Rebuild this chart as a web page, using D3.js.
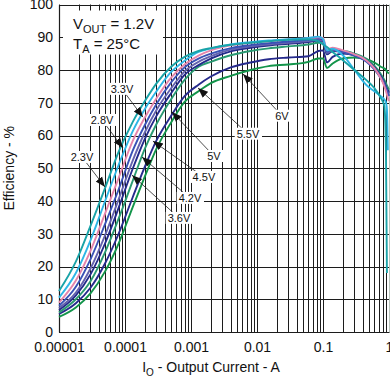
<!DOCTYPE html>
<html>
<head>
<meta charset="utf-8">
<script src="https://cdn.jsdelivr.net/npm/d3@7"></script>
<style>
body { margin: 0; background: #fff; }
text { font-family: "Liberation Sans", Arial, sans-serif; fill: #111; }
</style>
</head>
<body>
<div id="chart"></div>
<script>
// output current (A) shared by every curve
const currents = [0.00001, 0.000018, 0.00003, 0.00005, 0.00008, 0.00013, 0.0002, 0.0003, 0.0005, 0.0008,
    0.0013, 0.002, 0.004, 0.008, 0.015, 0.03, 0.06, 0.085, 0.1, 0.115,
    0.14, 0.2, 0.3, 0.45, 0.6, 0.75, 0.85, 0.9, 0.93, 0.96, 1.0];

// efficiency (%) per input voltage
const eff23 = [12.5, 21.5, 32.4, 44, 55, 64, 70.5, 75.9, 81, 84, 85.8, 86.7, 87.7, 88.3, 88.8, 89.2, 89.4, 88.8, 87.8, 87,
    85.5, 83, 80, 77, 74.5, 71.5, 69, 55, 18, null, null];
const eff28 = [10.5, 18, 28, 40, 51, 61.2, 68.1, 73.5, 79.4, 82.8, 85.5, 86.6, 87.8, 88.5, 89, 89.4, 89.8, 90.2, 89.5, 86,
    86.5, 84.5, 80, 75.5, 73.5, 72, 71, 70, 68, 55.5, null];
const eff33 = [9, 15.7, 24.8, 36.2, 47, 58.2, 65.5, 71.4, 77.7, 81.7, 84.4, 86, 87.5, 88.3, 88.8, 89.3, 89.7, 90, 89.8, 86.2,
    86.8, 86, 84.8, 83, 80.5, 77.5, 75, 73.5, 72.5, 71.5, 70.5];
const eff36 = [8, 13.8, 22.2, 33, 43.5, 55.2, 63.2, 69.6, 76.2, 80.8, 83.5, 85, 86.7, 87.6, 88.2, 88.7, 89.2, 89.6, 89.3, 85.6,
    86.3, 85.6, 84.4, 82.6, 80.2, 77.5, 75.5, 74.3, 73.5, 72.8, 72];
const eff42 = [7.3, 12, 19.4, 29.6, 40.5, 52.2, 61, 67.8, 74.4, 79.6, 82.5, 84.2, 86.2, 87.2, 87.8, 88.3, 88.8, 89.2, 89, 85.2,
    86, 85.5, 84.5, 82.8, 80.5, 77.8, 75.8, 74.5, 73.7, 73, 72.2];
const eff45 = [6.7, 11.2, 17.6, 27.1, 37.9, 49.7, 59, 66, 72.9, 78.5, 81.5, 83.5, 85.7, 86.8, 87.5, 88, 88.5, 89, 88.8, 84.8,
    85.8, 85.5, 84.6, 83, 80.8, 78.2, 76.2, 75, 74.2, 73.5, 72.8];
const eff50 = [6, 10, 15.5, 24.4, 34.6, 46, 56, 63.5, 71.1, 77, 81, 82.5, 84.5, 85.8, 86.6, 87.2, 87.8, 88.3, 88.2, 84.8,
    85.8, 85.8, 85, 83.5, 81.3, 78.8, 77, 76, 75.3, 74.7, 74];
const eff55 = [5.5, 8.8, 13.5, 21, 30, 41, 50.5, 58.5, 66, 72, 75.5, 78, 80.8, 82.3, 83.3, 83.8, 84.2, 85.8, 86, 82.3,
    84, 85, 84.5, 83, 81, 78.5, 76.5, 75.5, 74.8, 74, 73.3];
const eff60 = [4.6, 7.5, 11.8, 18.5, 27, 38, 47.5, 56, 64, 70.3, 73.5, 76, 78.2, 80, 81.2, 81.7, 82.5, 83.5, 83.5, 80.6,
    82, 83.5, 83.8, 83.3, 82.3, 81, 80.5, 80, 79.5, 79.2, 79];

const vinNames = ["6V", "5.5V", "5V", "4.5V", "4.2V", "3.6V", "3.3V", "2.8V", "2.3V"];
const vinValues = [eff60, eff55, eff50, eff45, eff42, eff36, eff33, eff28, eff23];
const vinColors = ["#12944a", "#262a8c", "#2a9a72", "#232a8a", "#6462ae", "#3a52b6", "#e584ab", "#2eb6e6", "#19a3a8"];

// callouts: label text, label position [A, %], arrow tip [A, %]
const calloutText = ["2.3V", "2.8V", "3.3V", "3.6V", "4.2V", "4.5V", "5V", "5.5V", "6V"];
const calloutLabel = [[0.0000223, 53.4], [0.0000449, 64.7], [0.00009, 74.2], [0.000658, 34.8], [0.000966, 40.9],
    [0.00157, 47.3], [0.00223, 53.7], [0.00731, 60.5], [0.0239, 66]];
const calloutTip = [[0.0000498, 44.3], [0.0000933, 56.2], [0.000187, 65.6], [0.000128, 47.9], [0.000181, 53.4],
    [0.000265, 58.3], [0.000515, 67.2], [0.00128, 74.5], [0.00614, 78.8]];

const xTickValues = [0.00001, 0.0001, 0.001, 0.01, 0.1, 1];
const xTickLabels = ["0.00001", "0.0001", "0.001", "0.01", "0.1", "1"];
const yTickValues = [0, 10, 20, 30, 40, 50, 60, 70, 80, 90, 100];

const width = 390, height = 377;
const margin = {top: 4.5, right: 1, bottom: 45, left: 59};

const svg = d3.select("#chart")
    .append("svg")
    .attr("width", width)
    .attr("height", height);

const x = d3.scaleLog()
    .domain([0.00001, 1])
    .range([margin.left, width - margin.right]);
const y = d3.scaleLinear()
    .domain([0, 100])
    .range([height - margin.bottom, margin.top]);

// grid
const grid = svg.append("g").attr("stroke", "#1c1c1c").attr("stroke-width", 1);
grid.selectAll("line.v")
    .data(x.ticks())
    .enter().append("line")
    .attr("class", "v")
    .attr("x1", d => Math.round(x(d)) + 0.5)
    .attr("x2", d => Math.round(x(d)) + 0.5)
    .attr("y1", y(100))
    .attr("y2", y(0))
    .attr("stroke", d => d === 1 ? "#b8c4bc" : null);
grid.selectAll("line.h")
    .data(yTickValues)
    .enter().append("line")
    .attr("class", "h")
    .attr("x1", x(0.00001))
    .attr("x2", x(1))
    .attr("y1", d => Math.round(y(d)) + 0.5)
    .attr("y2", d => Math.round(y(d)) + 0.5);

// axes
const xAxis = svg.append("g")
    .attr("transform", `translate(0,${y(0)})`)
    .call(d3.axisBottom(x).tickValues(xTickValues).tickSize(0).tickPadding(10)
        .tickFormat((d, i) => xTickLabels[i]));
const yAxis = svg.append("g")
    .attr("transform", `translate(${x(0.00001)},0)`)
    .call(d3.axisLeft(y).tickValues(yTickValues).tickSize(0).tickPadding(6));
[xAxis, yAxis].forEach(a => {
    a.select(".domain").attr("stroke", "#1c1c1c").attr("stroke-width", 1.2);
    a.selectAll("text").attr("font-size", 14).attr("font-family", '"Liberation Sans", Arial, sans-serif').attr("fill", "#111");
});

// curves
const line = d3.line()
    .defined(d => d[1] !== null)
    .x(d => x(d[0]))
    .y(d => y(d[1]))
    .curve(d3.curveMonotoneX);

svg.append("g")
    .selectAll("path")
    .data(vinValues)
    .enter().append("path")
    .attr("fill", "none")
    .attr("stroke", (d, i) => vinColors[i])
    .attr("stroke-width", 1.9)
    .attr("d", d => line(currents.map((c, i) => [c, d[i]])));

// callouts
svg.append("defs").append("marker")
    .attr("id", "arrow")
    .attr("viewBox", "0 0 10 10")
    .attr("refX", 10).attr("refY", 5)
    .attr("markerWidth", 10).attr("markerHeight", 10)
    .attr("markerUnits", "userSpaceOnUse")
    .attr("orient", "auto")
    .append("path")
    .attr("d", "M0,1 L10,5 L0,9 Z")
    .attr("fill", "#111");

const callouts = svg.append("g");
calloutText.forEach((t, i) => {
    const lx = x(calloutLabel[i][0]), ly = y(calloutLabel[i][1]);
    callouts.append("line")
        .attr("x1", lx).attr("y1", ly)
        .attr("x2", x(calloutTip[i][0])).attr("y2", y(calloutTip[i][1]))
        .attr("stroke", "#222").attr("stroke-width", 0.8)
        .attr("marker-end", "url(#arrow)");
    const g = callouts.append("g");
    const txt = g.append("text")
        .attr("x", lx).attr("y", ly)
        .attr("dy", "0.35em")
        .attr("text-anchor", "middle")
        .attr("font-size", 11)
        .text(t);
    const bb = txt.node().getBBox();
    g.insert("rect", "text")
        .attr("x", bb.x - 2).attr("y", bb.y)
        .attr("width", bb.width + 4).attr("height", bb.height)
        .attr("fill", "#fff");
});

// conditions box
const info = svg.append("g");
info.append("rect")
    .attr("x", margin.left + 4).attr("y", margin.top + 6)
    .attr("width", 100).attr("height", 44)
    .attr("fill", "#fff");
const vout = info.append("text").attr("x", margin.left + 14).attr("y", margin.top + 24).attr("font-size", 15);
vout.append("tspan").text("V");
vout.append("tspan").attr("font-size", 11).attr("dy", 4).text("OUT");
vout.append("tspan").attr("dy", -4).text(" = 1.2V");
const ta = info.append("text").attr("x", margin.left + 14).attr("y", margin.top + 44).attr("font-size", 15);
ta.append("tspan").text("T");
ta.append("tspan").attr("font-size", 11).attr("dy", 4).text("A");
ta.append("tspan").attr("dy", -4).text(" = 25°C");

// axis titles
const xt = svg.append("text")
    .attr("x", (x(0.00001) + x(1)) / 2 - 13)
    .attr("y", height - 5)
    .attr("text-anchor", "middle")
    .attr("font-size", 14);
xt.append("tspan").text("I");
xt.append("tspan").attr("font-size", 10).attr("dy", 4).text("O");
xt.append("tspan").attr("dy", -4).text(" - Output Current - A");

svg.append("text")
    .attr("transform", `translate(14,${(y(0) + y(100)) / 2}) rotate(-90)`)
    .attr("text-anchor", "middle")
    .attr("font-size", 14)
    .text("Efficiency - %");
</script>
</body>
</html>
